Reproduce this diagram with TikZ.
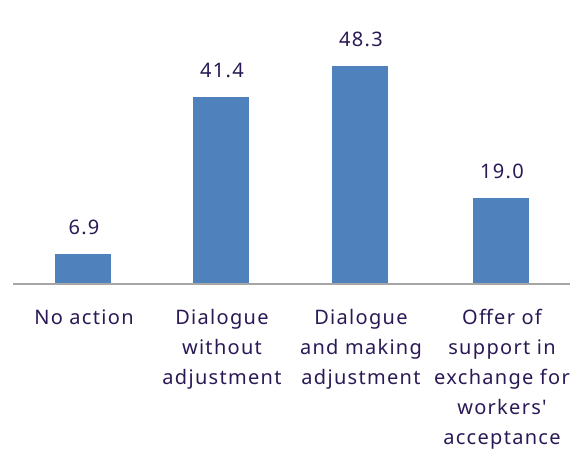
\documentclass[tikz,border=0pt]{standalone}
\usepackage{fontspec}
\newfontfamily\chartfont{Noto Sans}[LetterSpace=6.5]
\definecolor{barblue}{HTML}{4F81BD}
\definecolor{txt}{HTML}{2B1956}
\definecolor{axisgray}{HTML}{A6A6A6}
\begin{document}
\begin{tikzpicture}[x=1pt,y=-1pt,
  bar/.style={fill=barblue,draw=none},
  val/.style={anchor=base,text=txt,inner sep=0pt,font=\chartfont\fontsize{20}{30}\selectfont},
  cat/.style={anchor=north,text=txt,inner sep=0pt,align=center,font=\chartfont\fontsize{20}{30}\selectfont}]
\useasboundingbox (0,0) rectangle (584,451);
% bars
\fill[bar] (55,254) rectangle (111,284);
\fill[bar] (193,97) rectangle (249,284);
\fill[bar] (332,66) rectangle (388,284);
\fill[bar] (473,198) rectangle (529,284);
% axis
\coordinate (axl) at (13,284);
\coordinate (axr) at (570,284);
\draw[axisgray,line width=1.5pt] (axl) -- (axr);
% values
\node[val] (v1) at (84,234) {6.9};
\node[val] (v2) at (222,77) {41.4};
\node[val] (v3) at (361,46) {48.3};
\node[val] (v4) at (502,178) {19.0};
% categories
\node[cat] (c1) at (84,303) {\strut No action};
\node[cat] (c2) at (222,303) {\strut Dialogue\\without\\adjustment};
\node[cat] (c3) at (361,303) {\strut Dialogue\\and making\\adjustment};
\node[cat] (c4) at (502,303) {\strut Offer of\\support in\\exchange for\\workers'\\acceptance};
\end{tikzpicture}
\end{document}
